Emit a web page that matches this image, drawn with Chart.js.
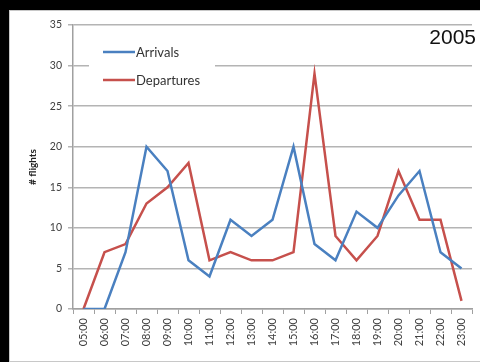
<!DOCTYPE html>
<html>
<head>
<meta charset="utf-8">
<title>Flights per hour</title>
<script src="https://cdn.jsdelivr.net/npm/chart.js@4.4.1/dist/chart.umd.min.js"></script>
<style>
  html, body { margin: 0; padding: 0; background: #000; }
  #panel { position: absolute; left: 9px; top: 10px; width: 470px; height: 350px; background: #fff; border: 1px solid #c8c8c8; }
  #wrap { position: absolute; left: 0; top: 0; width: 480px; height: 362px; }
</style>
</head>
<body>
<div id="panel"></div>
<div id="wrap"><canvas id="flightsChart" width="480" height="362"></canvas></div>
<script>
// hourly slots and flight counts
const hours = ['05:00', '06:00', '07:00', '08:00', '09:00', '10:00', '11:00', '12:00', '13:00', '14:00',
               '15:00', '16:00', '17:00', '18:00', '19:00', '20:00', '21:00', '22:00', '23:00'];
const arrivals   = [0, 0, 7, 20, 17, 6, 4, 11, 9, 11, 20, 8, 6, 12, 10, 14, 17, 7, 5];
const departures = [0, 7, 8, 13, 15, 18, 6, 7, 6, 6, 7, 29, 9, 6, 9, 17, 11, 11, 1];
const yearLabel = '2005';

const BLUE = '#4a80c0';
const RED = '#c6504c';

// legend box sitting inside the plot, top left
const insideLegend = {
    id: 'insideLegend',
    beforeDatasetsDraw(chart) {
        const ctx = chart.ctx;
        ctx.save();
        ctx.fillStyle = '#fff';
        ctx.fillRect(89, 36, 126, 60);
        ctx.font = '13px Lato';
        ctx.textBaseline = 'middle';
        chart.data.datasets.forEach((ds, i) => {
            const y = 52 + i * 28;
            ctx.strokeStyle = ds.borderColor;
            ctx.lineWidth = 2.5;
            ctx.beginPath();
            ctx.moveTo(103, y);
            ctx.lineTo(135, y);
            ctx.stroke();
            ctx.fillStyle = '#333';
            ctx.fillText(ds.label, 136, y + 1);
        });
        ctx.restore();
    },
    afterDraw(chart) {
        const ctx = chart.ctx;
        ctx.save();
        ctx.font = '21px "Liberation Sans"';
        ctx.fillStyle = '#111';
        ctx.textAlign = 'right';
        ctx.textBaseline = 'alphabetic';
        ctx.fillText(yearLabel, 476, 44);
        ctx.restore();
    }
};

new Chart(document.getElementById('flightsChart'), {
    type: 'line',
    data: {
        labels: hours,
        datasets: [
            { label: 'Arrivals', data: arrivals, borderColor: BLUE, borderWidth: 2.5, pointRadius: 0, tension: 0 },
            { label: 'Departures', data: departures, borderColor: RED, borderWidth: 2.5, pointRadius: 0, tension: 0 },
        ]
    },
    options: {
        responsive: false,
        animation: false,
        devicePixelRatio: 1,
        layout: { padding: { top: 25, right: 8, left: 0, bottom: 0 } },
        plugins: {
            legend: { display: false },
            tooltip: { enabled: false },
        },
        scales: {
            x: {
                offset: true,
                grid: { offset: true, drawOnChartArea: false, tickLength: 5, color: '#a0a0a0', lineWidth: 1 },
                border: { color: '#a0a0a0', width: 1.5 },
                ticks: { minRotation: 90, maxRotation: 90, padding: 4, color: '#404040', font: { family: 'Lato', size: 11 } },
                afterFit(scale) { scale.height = 53; },
            },
            y: {
                min: 0,
                max: 35,
                ticks: { stepSize: 5, padding: 6, color: '#404040', font: { family: 'Lato', size: 10.5 } },
                grid: { tickLength: 5, color: '#b4b4b4', lineWidth: 1.5 },
                border: { color: '#a0a0a0', width: 1.5 },
                title: { display: true, text: '# flights', color: '#222', padding: { top: 27 }, font: { family: 'Lato', size: 10, weight: 'bold' } },
                afterFit(scale) { scale.width = 73; },
            }
        }
    },
    plugins: [insideLegend]
});
</script>
</body>
</html>
